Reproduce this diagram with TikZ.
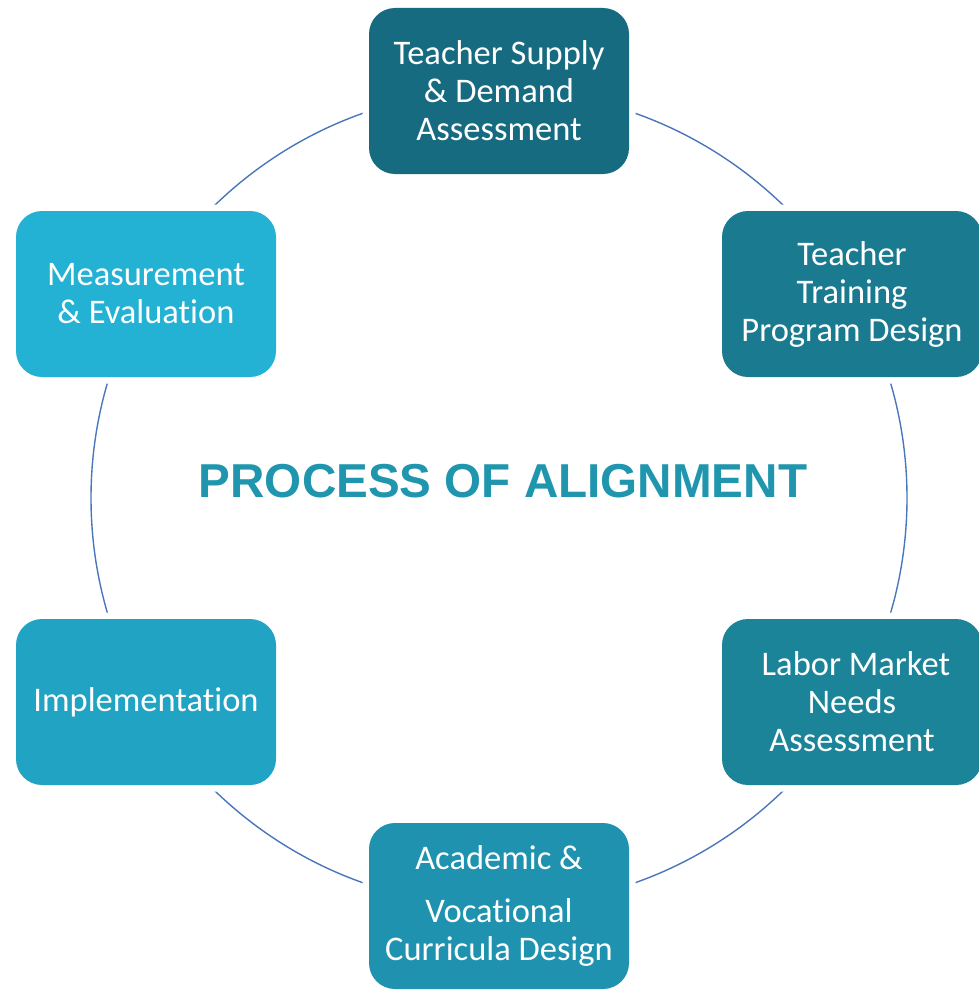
\documentclass[tikz,border=0pt]{standalone}
\usepackage{fontspec}
\setmainfont{Carlito}[Ligatures={NoCommon}]
\newfontfamily\titlefont{Liberation Sans}
\definecolor{cA}{HTML}{176B80}
\definecolor{cB}{HTML}{1A7A90}
\definecolor{cC}{HTML}{1B8499}
\definecolor{cD}{HTML}{1E92AE}
\definecolor{cE}{HTML}{21A3C4}
\definecolor{cF}{HTML}{23B1D4}
\definecolor{titlecol}{HTML}{2095AE}
\definecolor{ringcol}{HTML}{4A76BC}
\begin{document}
\begin{tikzpicture}[x=1pt,y=-1pt,
  stagebox/.style={rectangle, rounded corners=26pt, minimum width=260pt, minimum height=166pt,
    inner sep=0pt, text=white, align=center, font=\fontsize{34.5}{38}\selectfont,
    preaction={draw=white, line width=13pt}},
  ring/.style={draw=ringcol, line width=1.4pt}]
\useasboundingbox (0,0) rectangle (978,990);
\coordinate (ctr) at (499,498);
\draw[ring] (ctr) circle[radius=408pt];
\node[stagebox, fill=cA] (supply) at (499,91) {Teacher Supply\\\& Demand\\Assessment};
\node[stagebox, fill=cB] (training) at (852,294) {Teacher\\Training\\Program Design};
\node[stagebox, fill=cC] (labor) at (852,702) {\ Labor Market\\Needs\\Assessment};
\node[stagebox, fill=cD] (curricula) at (499,906) {Academic \&\\[15pt]Vocational\\Curricula Design};
\node[stagebox, fill=cE] (impl) at (146,702) {Implementation};
\node[stagebox, fill=cF] (measure) at (146,294) {Measurement\\\& Evaluation};
\node[text=titlecol, font=\titlefont\bfseries\fontsize{47.6}{54}\selectfont] (title) at (503,481) {PROCESS OF ALIGNMENT};
\end{tikzpicture}
\end{document}
